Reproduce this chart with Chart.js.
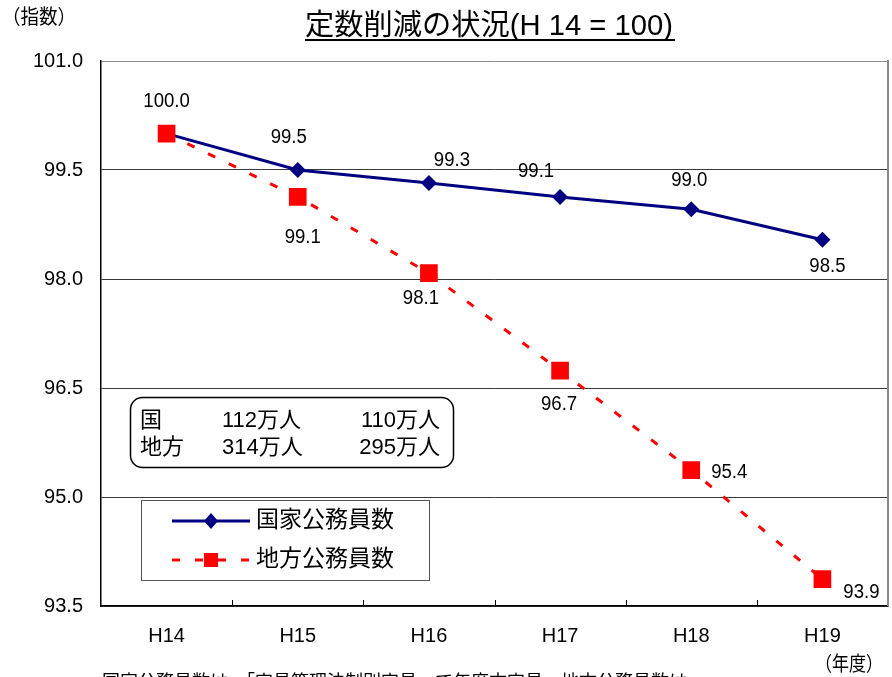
<!DOCTYPE html>
<html>
<head>
<meta charset="utf-8">
<script src="https://cdn.jsdelivr.net/npm/chart.js@4.4.0/dist/chart.umd.min.js"></script>
<style>
  html, body { margin: 0; padding: 0; background: #fff; }
  #wrap { width: 892px; height: 677px; position: relative; }
</style>
</head>
<body>
<div id="wrap"><canvas id="teisuChart" width="892" height="677"></canvas></div>
<script>
// ---- データ ----
const years = ['H14', 'H15', 'H16', 'H17', 'H18', 'H19'];
const kokka = [100.0, 99.5, 99.32, 99.13, 98.96, 98.54];   // 国家公務員数
const chiho = [100.0, 99.13, 98.08, 96.74, 95.37, 93.87];  // 地方公務員数
const yTicks = [93.5, 95.0, 96.5, 98.0, 99.5, 101.0];
const seriesNames = ['国家公務員数', '地方公務員数'];
const boxRows = [['国', '112万人', '110万人'], ['地方', '314万人', '295万人']];

// ラベル位置 (点からのずれ)
const kokkaLabelPos = [[0, -32], [-9, -33], [23, -23], [-24, -25], [-2, -29], [5, 27]];
const chihoLabelPos = [null, [5, 41], [-8, 25], [-1, 34], [38, 2], [39, 13]];

const FONT = "'Liberation Sans', 'Noto Sans CJK JP', sans-serif";
const NAVY = '#000080';
const RED = '#ff0000';

function roundRectPath(ctx, x, y, w, h, r) {
    ctx.beginPath();
    ctx.moveTo(x + r, y);
    ctx.lineTo(x + w - r, y);
    ctx.arcTo(x + w, y, x + w, y + r, r);
    ctx.lineTo(x + w, y + h - r);
    ctx.arcTo(x + w, y + h, x + w - r, y + h, r);
    ctx.lineTo(x + r, y + h);
    ctx.arcTo(x, y + h, x, y + h - r, r);
    ctx.lineTo(x, y + r);
    ctx.arcTo(x, y, x + r, y, r);
    ctx.closePath();
}

// 横幅に合わせて文字を詰める
function fitText(ctx, text, x, y, width) {
    const w = ctx.measureText(text).width;
    squeezeText(ctx, text, x, y, width / w);
}

function squeezeText(ctx, text, x, y, sx) {
    ctx.save();
    ctx.translate(x, y);
    ctx.scale(sx, 1);
    ctx.fillText(text, 0, 0);
    ctx.restore();
}

const extras = {
    id: 'extras',
    afterDatasetsDraw(chart) {
        const ctx = chart.ctx;
        const xs = chart.scales.x, ys = chart.scales.y;
        const area = chart.chartArea;
        ctx.save();

        // 右枠
        ctx.strokeStyle = '#8a8a8a';
        ctx.lineWidth = 2;
        ctx.beginPath();
        ctx.moveTo(area.right, area.top - 1);
        ctx.lineTo(area.right, area.bottom);
        ctx.stroke();

        // 内向きの目盛り
        ctx.strokeStyle = '#000';
        ctx.lineWidth = 1;
        for (let i = 0; i < years.length - 1; i++) {
            const xm = Math.round((xs.getPixelForValue(i) + xs.getPixelForValue(i + 1)) / 2) + 0.5;
            ctx.beginPath();
            ctx.moveTo(xm, area.bottom - 6);
            ctx.lineTo(xm, area.bottom);
            ctx.stroke();
        }

        // データラベル
        ctx.fillStyle = '#000';
        ctx.font = '20px ' + FONT;
        ctx.textAlign = 'center';
        ctx.textBaseline = 'middle';
        [[kokka, kokkaLabelPos], [chiho, chihoLabelPos]].forEach(([vals, pos]) => {
            vals.forEach((v, i) => {
                if (!pos[i]) return;
                squeezeText(ctx, v.toFixed(1), xs.getPixelForValue(i) + pos[i][0], ys.getPixelForValue(v) + pos[i][1], 0.93);
            });
        });

        // 人数の枠
        roundRectPath(ctx, 130.5, 397.5, 323, 70, 12);
        ctx.fillStyle = '#fff';
        ctx.fill();
        ctx.strokeStyle = '#000';
        ctx.lineWidth = 1.5;
        ctx.stroke();
        ctx.fillStyle = '#000';
        ctx.font = '22px ' + FONT;
        boxRows.forEach((row, r) => {
            const yy = 421 + r * 27;
            ctx.textAlign = 'left';
            ctx.fillText(row[0], 140, yy);
            ctx.fillText(row[1], 222, yy);
            ctx.textAlign = 'right';
            ctx.fillText(row[2], 440, yy);
        });

        // 凡例
        ctx.fillStyle = '#fff';
        ctx.fillRect(141.5, 500.5, 288, 80);
        ctx.strokeStyle = '#555';
        ctx.lineWidth = 1;
        ctx.strokeRect(141.5, 500.5, 288, 80);
        const rowsY = [521, 560];
        // 国家
        ctx.strokeStyle = NAVY;
        ctx.lineWidth = 3;
        ctx.beginPath();
        ctx.moveTo(172, rowsY[0]);
        ctx.lineTo(250, rowsY[0]);
        ctx.stroke();
        ctx.fillStyle = NAVY;
        ctx.beginPath();
        ctx.moveTo(211, rowsY[0] - 8);
        ctx.lineTo(218, rowsY[0]);
        ctx.lineTo(211, rowsY[0] + 8);
        ctx.lineTo(204, rowsY[0]);
        ctx.closePath();
        ctx.fill();
        // 地方
        ctx.strokeStyle = RED;
        ctx.setLineDash([8, 15]);
        ctx.beginPath();
        ctx.moveTo(172, rowsY[1]);
        ctx.lineTo(250, rowsY[1]);
        ctx.stroke();
        ctx.setLineDash([]);
        ctx.fillStyle = RED;
        ctx.fillRect(204, rowsY[1] - 7, 14, 14);
        ctx.fillStyle = '#000';
        ctx.font = '23px ' + FONT;
        ctx.textAlign = 'left';
        seriesNames.forEach((n, i) => ctx.fillText(n, 256, rowsY[i]));

        // タイトル
        ctx.font = '29px ' + FONT;
        ctx.textAlign = 'left';
        ctx.textBaseline = 'alphabetic';
        fitText(ctx, '定数削減の状況(H 14 = 100)', 305, 35, 368);
        ctx.fillRect(305, 39, 370, 2);

        // 単位
        ctx.textBaseline = 'middle';
        ctx.font = '20px ' + FONT;
        fitText(ctx, '（指数）', 2, 18, 74);
        ctx.font = '20px ' + FONT;
        fitText(ctx, '（年度）', 815, 665, 68);

        // 注記 (下で切れている)
        ctx.font = '18px ' + FONT;
        ctx.textBaseline = 'top';
        ctx.fillText('国家公務員数は、「定員管理法制別定員」で年度末定員、地方公務員数は、', 102, 674);

        ctx.restore();
    }
};

new Chart(document.getElementById('teisuChart'), {
    type: 'line',
    data: {
        labels: years,
        datasets: [
            {
                label: seriesNames[0],
                data: kokka,
                borderColor: NAVY,
                backgroundColor: NAVY,
                borderWidth: 3,
                pointStyle: 'rectRot',
                pointRadius: 8,
                pointBorderWidth: 0,
                tension: 0,
                order: 1
            },
            {
                label: seriesNames[1],
                data: chiho,
                borderColor: RED,
                backgroundColor: RED,
                borderWidth: 3,
                borderDash: [8, 15],
                pointStyle: 'rect',
                pointRadius: 12.5,
                pointBorderWidth: 0,
                tension: 0,
                order: 0
            }
        ]
    },
    options: {
        responsive: false,
        animation: false,
        devicePixelRatio: 1,
        layout: { autoPadding: false, padding: { top: 61, right: 4, left: 0, bottom: 0 } },
        plugins: {
            legend: { display: false },
            title: { display: false },
            tooltip: { enabled: false }
        },
        scales: {
            x: {
                offset: true,
                grid: { display: false, drawTicks: false },
                border: { display: true, color: '#000', width: 1.5 },
                ticks: { color: '#000', font: { family: FONT, size: 20 }, padding: 18, maxRotation: 0 },
                afterFit: (scale) => { scale.height = 71; }
            },
            y: {
                min: 93.5,
                max: 101,
                afterBuildTicks: (axis) => { axis.ticks = yTicks.map(v => ({ value: v })); },
                grid: {
                    drawTicks: false,
                    lineWidth: 1,
                    color: (c) => (c.tick && c.tick.value === 101 ? '#8c8c8c' : '#3a3a3a')
                },
                border: { display: true, color: '#000', width: 1.5 },
                ticks: {
                    color: '#000',
                    font: { family: FONT, size: 20 },
                    padding: 18,
                    callback: (v) => Number(v).toFixed(1)
                },
                afterFit: (scale) => { scale.width = 101; }
            }
        }
    },
    plugins: [extras]
});
</script>
</body>
</html>
